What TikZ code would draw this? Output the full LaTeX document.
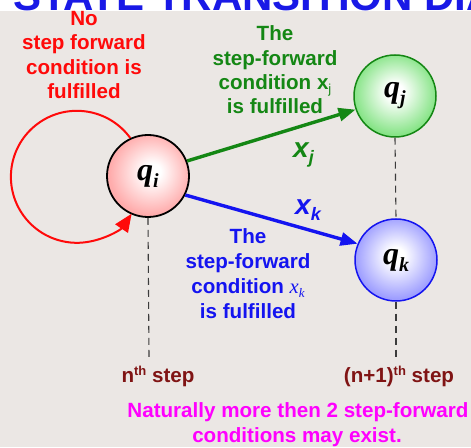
\documentclass[tikz,border=0pt]{standalone}
\usepackage{fontspec}
\setmainfont{Liberation Sans}
\newfontfamily\qserif{Liberation Serif}
\usetikzlibrary{arrows.meta}
\definecolor{bgcol}{RGB}{235,231,228}
\definecolor{redc}{RGB}{255,10,10}
\definecolor{greenc}{RGB}{20,135,20}
\definecolor{bluec}{RGB}{20,20,240}
\definecolor{darkredc}{RGB}{128,20,20}
\definecolor{magc}{RGB}{255,0,255}
\definecolor{titlec}{RGB}{25,25,230}
\definecolor{pinkout}{RGB}{255,172,172}
\definecolor{greenout}{RGB}{135,228,135}
\definecolor{blueout}{RGB}{158,158,255}
\definecolor{dashc}{RGB}{60,60,60}
\pgfdeclareradialshading{pinkball}{\pgfpoint{3bp}{3bp}}{color(0bp)=(white); color(5bp)=(white); color(25bp)=(pinkout); color(50bp)=(pinkout)}
\pgfdeclareradialshading{greenball}{\pgfpoint{0bp}{3bp}}{color(0bp)=(white); color(5bp)=(white); color(25bp)=(greenout); color(50bp)=(greenout)}
\pgfdeclareradialshading{blueball}{\pgfpoint{0bp}{3bp}}{color(0bp)=(white); color(5bp)=(white); color(25bp)=(blueout); color(50bp)=(blueout)}
\newcommand\qlab[2]{{\qserif\bfseries\itshape\fontsize{32}{32}\selectfont #1\raisebox{-7pt}{\fontsize{20}{20}\selectfont #2}}}
\begin{document}
\begin{tikzpicture}[x=1pt,y=1pt,
  ball/.style={circle, minimum size=82pt, inner sep=0pt, line width=1.8pt, shade},
  txt/.style={font=\fontsize{20.6}{24.4}\selectfont\bfseries, anchor=base, inner sep=0pt},
  dashline/.style={draw=dashc, line width=1.1pt, dash pattern=on 7pt off 5pt},
  garrow/.style={draw=greenc, line width=3.4pt, -{Triangle[length=17pt,width=13pt]}},
  barrow/.style={draw=bluec, line width=3.4pt, -{Triangle[length=17pt,width=13pt]}},
  rloop/.style={draw=redc, line width=2pt, -{Triangle[length=18pt,width=15pt]}},
  xlab/.style={font=\fontsize{28}{28}\selectfont\bfseries\itshape, anchor=base west, inner sep=0pt}]
\useasboundingbox (0,0) rectangle (471,447);
\fill[white] (0,0) rectangle (471,447);
\fill[bgcol] (0,0) rectangle (471,436);
\begin{scope}
\clip (0,436) rectangle (471,447);
\node[anchor=base west, inner sep=0pt, text=titlec, font=\fontsize{42}{42}\selectfont\bfseries] (title) at (13,436.5) {STATE TRANSITION DIAGRAM};
\end{scope}
% states
\node[ball, draw=black, shading=pinkball] (qi) at (148,271) {\qlab{q}{i}};
\node[ball, draw=greenc, line width=1.5pt, shading=greenball] (qj) at (395,351) {\qlab{q}{j}};
\node[ball, draw=bluec, line width=1.5pt, shading=blueball] (qk) at (396,187) {\qlab{q}{k}};
% loop
\draw[rloop] (qi.115) arc[start angle=36, end angle=326, radius=66pt];
% transitions
\draw[garrow] (qi.21) -- (qj.199);
\draw[barrow] (qi.-27) -- (qk.157);
\node[xlab, text=greenc] (xj) at (293,289) {x\raisebox{-6pt}{\fontsize{18}{18}\selectfont j}};
\node[xlab, text=bluec] (xk) at (295,232) {x\raisebox{-6pt}{\fontsize{18}{18}\selectfont k}};
% dashed step lines
\coordinate (ni) at (149,89);
\coordinate (nk) at (396,89);
\draw[dashline] (qi.south) -- (ni);
\draw[dashline] (qj.south) -- (qk.north);
\draw[dashline] (qk.south) -- (nk);
% red text
\node[txt, text=redc] (r1) at (84,421.5) {No};
\node[txt, text=redc] (r2) at (84,397) {step forward};
\node[txt, text=redc] (r3) at (84,372.5) {condition is};
\node[txt, text=redc] (r4) at (84,348.5) {fulfilled};
% green text
\node[txt, text=greenc] (g1) at (275,406) {The};
\node[txt, text=greenc] (g2) at (275,381.5) {step-forward};
\node[txt, text=greenc] (g3) at (275,357) {condition x\raisebox{-4pt}{\fontsize{13}{13}\selectfont\mdseries j}};
\node[txt, text=greenc] (g4) at (275,333) {is fulfilled};
% blue text
\node[txt, text=bluec] (b1) at (248,203) {The};
\node[txt, text=bluec] (b2) at (248,178) {step-forward};
\node[txt, text=bluec] (b3) at (248,153) {condition {\qserif\mdseries\itshape x\raisebox{-4pt}{\fontsize{13}{13}\selectfont k}}};
\node[txt, text=bluec] (b4) at (248,128) {is fulfilled};
% step labels
\node[txt, text=darkredc] (sn) at (158,64) {n\raisebox{7pt}{\fontsize{13}{13}\selectfont th} step};
\node[txt, text=darkredc] (sn1) at (399,64) {(n+1)\raisebox{7pt}{\fontsize{13}{13}\selectfont th} step};
% note
\node[txt, text=magc] (m1) at (298,29) {Naturally more then 2 step-forward};
\node[txt, text=magc] (m2) at (297,5) {conditions may exist.};
\end{tikzpicture}
\end{document}
